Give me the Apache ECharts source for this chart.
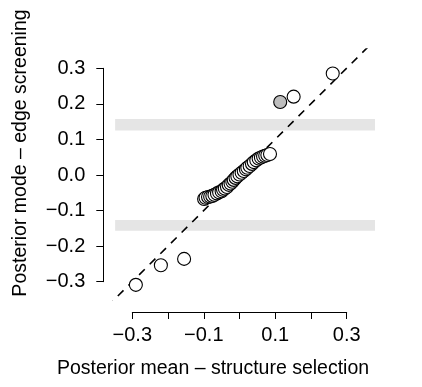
<!DOCTYPE html>
<html><head><meta charset="utf-8">
<script src="https://cdn.jsdelivr.net/npm/echarts@6/dist/echarts.min.js"></script>
<style>html,body{margin:0;padding:0;background:#fff}#c{width:422px;height:387px}</style>
</head><body><div id="c"></div>
<script>
// ---- data ----
const openX = [-0.290,-0.220,-0.155,-0.099,-0.095,-0.088,-0.082,-0.076,-0.070,-0.063,-0.057,-0.050,-0.046,-0.041,-0.035,-0.030,-0.025,-0.020,-0.016,-0.011,-0.006,0.000,0.006,0.012,0.018,0.022,0.0285,0.035,0.040,0.047,0.0536,0.060,0.066,0.072,0.078,0.0854,0.1516,0.261];
const openY = [-0.309,-0.254,-0.236,-0.0675,-0.064,-0.062,-0.061,-0.059,-0.056,-0.052,-0.049,-0.046,-0.042,-0.0384,-0.034,-0.028,-0.024,-0.019,-0.014,-0.0084,-0.004,0.001,0.006,0.011,0.016,0.020,0.0253,0.031,0.036,0.041,0.0459,0.049,0.052,0.054,0.056,0.059,0.220,0.285];
const filledX = [0.114];
const filledY = [0.205];
const bandUpper = [0.125, 0.157];
const bandLower = [-0.157, -0.127];
const bandXStart = -0.348;
const identityLine = [-0.4, 0.4];
const xTicks = [-0.3,-0.2,-0.1,0.0,0.1,0.2,0.3];
const xTickLabels = ['−0.3','','−0.1','','0.1','','0.3'];
const yTicks = [-0.3,-0.2,-0.1,0.0,0.1,0.2,0.3];
const yTickLabels = ['−0.3','−0.2','−0.1','0.0','0.1','0.2','0.3'];
const xTitle = 'Posterior mean – structure selection';
const yTitle = 'Posterior mode – edge screening';

// ---- chart ----
const FONT = '"Liberation Sans", Arial, Helvetica, sans-serif';
const TICK_FS = 20, TITLE_FS = 19.5;
const xMin = -0.354, xMax = 0.3793, yMin = -0.3516, yMax = 0.354;
function lab(ticks, labels){ return v => { const i = ticks.findIndex(t => Math.abs(t - v) < 1e-6); return i < 0 ? '' : labels[i]; }; }
const openData = openX.map((x,i)=>[x, openY[i]]);
const filledData = filledX.map((x,i)=>[x, filledY[i]]);
const chart = echarts.init(document.getElementById('c'), null, {renderer:'canvas'});
chart.setOption({
  animation:false,
  backgroundColor:'#fff',
  textStyle:{fontFamily:FONT},
  grid:[
    {left:113, top:49, width:262, height:251},
    {left:132.3, top:290, width:214.4, height:22},
    {left:103.3, top:68.3, width:10, height:213.4}
  ],
  xAxis:[
    {gridIndex:0, type:'value', min:xMin, max:xMax, show:false},
    {gridIndex:1, type:'value', min:-0.3, max:0.3, interval:0.1, position:'bottom',
     axisLine:{show:true, lineStyle:{color:'#000', width:1}},
     axisTick:{show:true, length:7, lineStyle:{color:'#000', width:1}},
     axisLabel:{show:true, margin:13, fontSize:TICK_FS, color:'#000', fontFamily:FONT, formatter:lab(xTicks,xTickLabels), showMinLabel:true, showMaxLabel:true},
     splitLine:{show:false}},
    {gridIndex:2, type:'value', min:0, max:1, show:false}
  ],
  yAxis:[
    {gridIndex:0, type:'value', min:yMin, max:yMax, show:false},
    {gridIndex:1, type:'value', min:0, max:1, show:false},
    {gridIndex:2, type:'value', min:-0.3, max:0.3, interval:0.1, position:'left',
     axisLine:{show:true, lineStyle:{color:'#000', width:1}},
     axisTick:{show:true, length:7, lineStyle:{color:'#000', width:1}},
     axisLabel:{show:true, margin:18, fontSize:TICK_FS, color:'#000', fontFamily:FONT, formatter:lab(yTicks,yTickLabels), showMinLabel:true, showMaxLabel:true},
     splitLine:{show:false}}
  ],
  series:[
    {type:'line', xAxisIndex:0, yAxisIndex:0, data:[], z:1, silent:true,
     markArea:{silent:true, itemStyle:{color:'#e5e5e5'},
       data:[
         [{coord:[bandXStart, bandUpper[0]]},{coord:[xMax, bandUpper[1]]}],
         [{coord:[bandXStart, bandLower[0]]},{coord:[xMax, bandLower[1]]}]
       ]}},
    {type:'line', xAxisIndex:0, yAxisIndex:0, data:[[identityLine[0],identityLine[0]],[identityLine[1],identityLine[1]]],
     showSymbol:false, symbol:'none', clip:true, z:2, silent:true,
     lineStyle:{color:'#000', width:1.6, type:[8,7]}},
    {type:'scatter', xAxisIndex:0, yAxisIndex:0, data:openData, symbol:'circle', symbolSize:13, z:3, clip:false,
     itemStyle:{color:'#fff', borderColor:'#000', borderWidth:1.1, opacity:1}},
    {type:'scatter', xAxisIndex:0, yAxisIndex:0, data:filledData, symbol:'circle', symbolSize:13, z:4, clip:false,
     itemStyle:{color:'#bebebe', borderColor:'#000', borderWidth:1.1, opacity:1}},
    {type:'scatter', xAxisIndex:1, yAxisIndex:1, data:[]},
    {type:'scatter', xAxisIndex:2, yAxisIndex:2, data:[]}
  ],
  graphic:[
    {type:'text', x:57, y:359, style:{text:xTitle, font:TITLE_FS+'px '+FONT, fill:'#000', textAlign:'left', textVerticalAlign:'top'}},
    {type:'text', x:11, y:153, rotation:Math.PI/2, style:{text:yTitle, font:TITLE_FS+'px '+FONT, fill:'#000', textAlign:'center', textVerticalAlign:'top'}}
  ]
});
</script></body></html>
